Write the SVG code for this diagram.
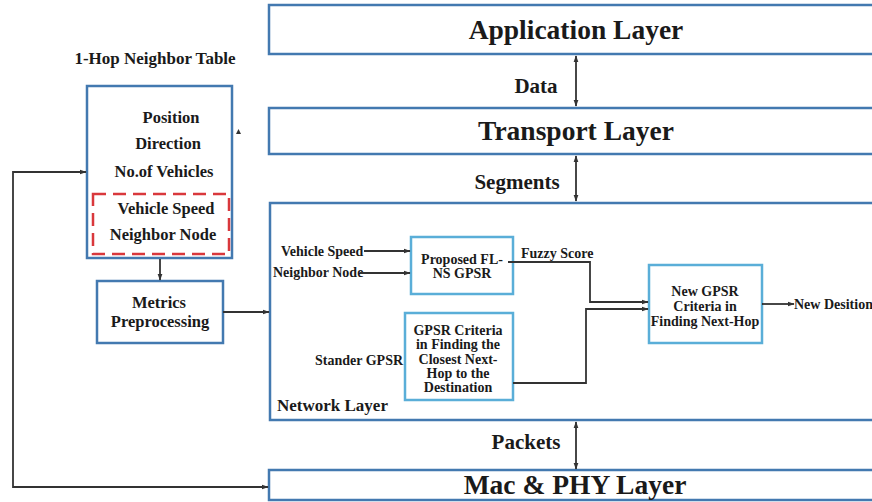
<svg xmlns="http://www.w3.org/2000/svg" width="872" height="502" viewBox="0 0 872 502">
<defs>
<style>
.t{font-family:'Liberation Serif','Times New Roman',serif;font-weight:bold;fill:#1a1a1a}
.layer{fill:#fff;stroke:#4379b0;stroke-width:2.5}
.blk{fill:#fff;stroke:#4379b0;stroke-width:2.5}
.inner{fill:#fff;stroke:#5aaed8;stroke-width:2.5}
.dash{fill:none;stroke:#d9383c;stroke-width:2.5;stroke-dasharray:13 7}
.ln{fill:none;stroke:#333;stroke-width:1.8}
.big{font-size:27.5px}
.mid{font-size:21px}
.tbl{font-size:16.5px}
.sm{font-size:14px}
</style>
<marker id="ah" viewBox="0 0 10 10" refX="9" refY="5" markerWidth="7" markerHeight="7" orient="auto-start-reverse" markerUnits="userSpaceOnUse">
<path d="M0,1.5 L10,5 L0,8.5 z" fill="#333"/>
</marker>
</defs>
<rect width="872" height="502" fill="#fff"/>

<g id="application-layer">
<rect class="layer" x="269" y="5" width="620" height="49"/>
<text class="t big" x="576" y="39" text-anchor="middle">Application Layer</text>
</g>
<g id="transport-layer">
<rect class="layer" x="269" y="108" width="620" height="46"/>
<text class="t big" x="576" y="140" text-anchor="middle">Transport Layer</text>
</g>
<g id="network-layer">
<rect class="layer" x="270" y="203" width="620" height="217"/>
<text class="t" x="277" y="411" font-size="17">Network Layer</text>
</g>
<g id="mac-phy-layer">
<rect class="layer" x="269" y="470" width="620" height="30"/>
<text class="t big" x="575" y="494" text-anchor="middle">Mac &amp; PHY Layer</text>
</g>

<g id="neighbor-table">
<text class="t" x="155" y="64" text-anchor="middle" font-size="17">1-Hop Neighbor Table</text>
<rect class="blk" x="87" y="86" width="145" height="172"/>
<text class="t tbl" x="171" y="123" text-anchor="middle">Position</text>
<text class="t tbl" x="168" y="149" text-anchor="middle">Direction</text>
<text class="t tbl" x="164" y="177" text-anchor="middle">No.of Vehicles</text>
<rect class="dash" x="93" y="194" width="136" height="60"/>
<text class="t tbl" x="166" y="214" text-anchor="middle">Vehicle Speed</text>
<text class="t tbl" x="163" y="240" text-anchor="middle">Neighbor Node</text>
<path d="M236,134 L238.5,129 L241,134 z" fill="#333"/>
</g>

<g id="metrics-preprocessing">
<rect class="blk" x="97" y="281" width="126" height="62"/>
<text class="t tbl" x="159" y="308" text-anchor="middle">Metrics</text>
<text class="t tbl" x="160" y="327" text-anchor="middle">Preprocessing</text>
</g>

<g id="proposed-fl-ns-gpsr">
<rect class="inner" x="411" y="237" width="102" height="57"/>
<text class="t sm" x="462" y="264" text-anchor="middle">Proposed FL-</text>
<text class="t sm" x="462" y="278" text-anchor="middle">NS GPSR</text>
</g>

<g id="gpsr-criteria">
<rect class="inner" x="405" y="313" width="108" height="87"/>
<text class="t sm" x="458" y="335" text-anchor="middle">GPSR Criteria</text>
<text class="t sm" x="458" y="349" text-anchor="middle">in Finding the</text>
<text class="t sm" x="458" y="364" text-anchor="middle">Closest Next-</text>
<text class="t sm" x="458" y="378" text-anchor="middle">Hop to the</text>
<text class="t sm" x="458" y="392" text-anchor="middle">Destination</text>
</g>

<g id="new-gpsr-criteria">
<rect class="inner" x="649" y="265" width="113" height="78"/>
<text class="t sm" x="705" y="296" text-anchor="middle">New GPSR</text>
<text class="t sm" x="705" y="311" text-anchor="middle">Criteria in</text>
<text class="t sm" x="705" y="326" text-anchor="middle">Finding Next-Hop</text>
</g>

<g id="labels">
<text class="t mid" x="536" y="93" text-anchor="middle">Data</text>
<text class="t mid" x="517" y="189" text-anchor="middle">Segments</text>
<text class="t mid" x="526" y="449" text-anchor="middle">Packets</text>
<text class="t sm" x="281" y="256">Vehicle Speed</text>
<text class="t sm" x="273" y="277">Neighbor Node</text>
<text class="t sm" x="315" y="365">Stander GPSR</text>
<text class="t sm" x="521" y="258">Fuzzy Score</text>
<text class="t sm" x="794" y="309">New Desition</text>
</g>

<g id="connectors">
<line class="ln" x1="576" y1="56" x2="576" y2="106" marker-start="url(#ah)" marker-end="url(#ah)"/>
<line class="ln" x1="576" y1="156" x2="576" y2="201" marker-start="url(#ah)" marker-end="url(#ah)"/>
<line class="ln" x1="576" y1="422" x2="576" y2="469" marker-start="url(#ah)" marker-end="url(#ah)"/>
<line class="ln" x1="160" y1="259" x2="160" y2="280" marker-end="url(#ah)"/>
<line class="ln" x1="223" y1="312" x2="269" y2="312" marker-end="url(#ah)"/>
<path class="ln" d="M268,487 L13,487 L13,172 L86,172" marker-end="url(#ah)"/>
<line class="ln" x1="13" y1="487" x2="268" y2="487" marker-end="url(#ah)"/>
<line class="ln" x1="364" y1="251" x2="410" y2="251" marker-end="url(#ah)"/>
<line class="ln" x1="360" y1="273" x2="410" y2="273" marker-end="url(#ah)"/>
<path class="ln" d="M508,262 L590,262 L590,302 L648,302" marker-end="url(#ah)"/>
<path class="ln" d="M513,383 L586,383 L586,309 L648,309" marker-end="url(#ah)"/>
<line class="ln" x1="762" y1="304" x2="794" y2="304" marker-end="url(#ah)"/>
</g>
</svg>
